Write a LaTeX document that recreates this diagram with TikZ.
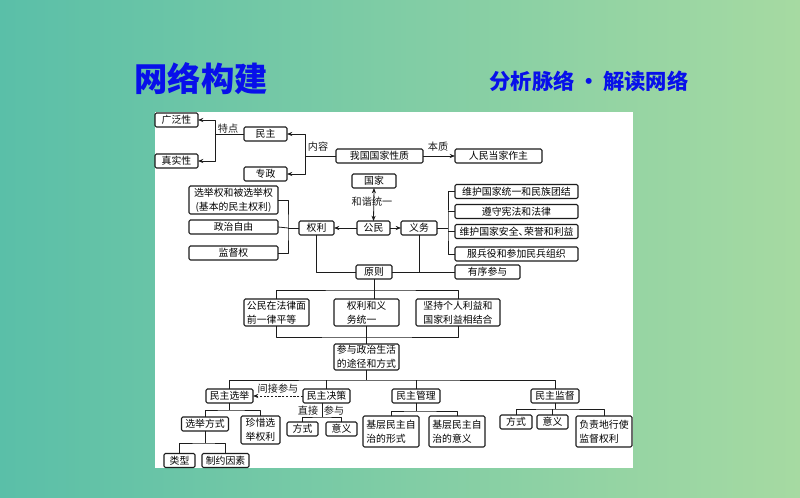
\documentclass[tikz,border=0pt]{standalone}
\usepackage{fontspec}
\setmainfont{Noto Sans CJK SC}
\usetikzlibrary{arrows.meta,positioning}
\definecolor{titleblue}{HTML}{0810EA}
\definecolor{bgleft}{HTML}{5ABFA8}
\definecolor{bgright}{HTML}{A6DAA2}
\definecolor{ink}{HTML}{1C1C1C}
\tikzset{
    every picture/.style={line join=round},
    boxw/.style={minimum width=#1*0.75pt},
    boxh/.style={minimum height=#1*0.75pt},
    mapbox/.style={draw=ink,fill=white,line width=0.8pt,rounded corners=1pt,
      minimum height=10.5pt,inner sep=1pt,outer sep=0pt,
      font=\fontsize{7.4}{10.5}\selectfont,align=center},
    twoline/.style={mapbox,align=left},
    linklabel/.style={font=\fontsize{7.6}{9}\selectfont,text=ink,inner sep=1pt},
    link/.style={draw=ink,line width=0.6pt},
    finedash/.style={dash pattern=on 1.6pt off 1.2pt}
}

\begin{document}
\begin{tikzpicture}[x=0.75pt,y=-0.75pt,>={Stealth[length=1.4mm,width=1.1mm]}]
  \useasboundingbox (0,0) rectangle (800,498);
  \shade[left color=bgleft,right color=bgright] (0,0) rectangle (800,498);
  \fill[white] (155,112) rectangle (633,468);

  \node[text=titleblue,font=\fontsize{25}{28}\selectfont\bfseries] (title) at (201,79) {网络构建};
  \node[text=titleblue,font=\fontsize{16}{18}\selectfont\bfseries] (subtitle) at (589,81) {分析脉络\,·\,解读网络};

  % upper part
  \node[mapbox,boxw=43] (gfx) at (176.5,120) {广泛性};
  \node[mapbox,boxw=43] (zsx) at (176.5,161) {真实性};
  \node[mapbox,boxw=43] (mz) at (265.5,134) {民主};
  \node[mapbox,boxw=43] (zz) at (265.5,174) {专政};
  \node[mapbox,boxw=87] (xz) at (379.5,156) {我国国家性质};
  \node[mapbox,boxw=87] (rm) at (498.5,156) {人民当家作主};
  \node[mapbox,boxw=44] (gj) at (374,181) {国家};
  \node[mapbox,boxw=33] (gm) at (373.5,228) {公民};
  \node[mapbox,boxw=35] (ql) at (316.5,228) {权利};
  \node[mapbox,boxw=36] (yw) at (419,228) {义务};
  \node[mapbox,boxw=89,boxh=28] (xjq) at (233.5,200) {选举权和被选举权\\(基本的民主权利)};
  \node[mapbox,boxw=89] (zzzy) at (233.5,227) {政治自由};
  \node[mapbox,boxw=89] (jdq) at (233.5,253) {监督权};
  \node[mapbox,boxw=123] (r1) at (516.5,191.5) {维护国家统一和民族团结};
  \node[mapbox,boxw=123] (r2) at (516.5,211.5) {遵守宪法和法律};
  \node[mapbox,boxw=123] (r3) at (516.5,231.5) {维护国家安全、\kern-0.45em 荣誉和利益};
  \node[mapbox,boxw=123] (r4) at (516.5,254) {服兵役和参加民兵组织};
  \node[mapbox,boxw=65] (yxcy) at (487.5,272) {有序参与};
  \node[mapbox,boxw=36] (yz) at (374,272) {原则};

  \node[linklabel] (tdlbl) at (228,129) {特点};
  \node[linklabel] (nrlbl) at (318,147) {内容};
  \node[linklabel] (bzlbl) at (438,147) {本质};
  \node[linklabel] (hxlbl) at (372,202) {和谐统一};

  % principles
  \node[twoline,boxw=65,boxh=27] (p1) at (276.5,312.5) {公民在法律面\\前一律平等};
  \node[twoline,boxw=65,boxh=27] (p2) at (366.5,312.5) {权利和义\\务统一};
  \node[twoline,boxw=84,boxh=27] (p3) at (458,312.5) {坚持个人利益和\\国家利益相结合};
  \node[twoline,boxw=65,boxh=26] (tj) at (366.5,357) {参与政治生活\\的途径和方式};

  % four ways
  \node[mapbox,boxw=47] (xj) at (229.5,396) {民主选举};
  \node[mapbox,boxw=47] (jc) at (326.5,396) {民主决策};
  \node[mapbox,boxw=48] (gl) at (416,396) {民主管理};
  \node[mapbox,boxw=48] (jdu) at (555,396) {民主监督};
  \node[mapbox,boxw=47] (xjfs) at (205,424) {选举方式};
  \node[twoline,boxw=39,boxh=28] (zx) at (260.5,430) {珍惜选\\举权利};
  \node[mapbox,boxw=31] (lx) at (179.5,460.5) {类型};
  \node[mapbox,boxw=47] (zy) at (225.5,460.5) {制约因素};
  \node[mapbox,boxw=31] (fs1) at (302.5,429) {方式};
  \node[mapbox,boxw=31] (yy1) at (341.5,429) {意义};
  \node[twoline,boxw=56,boxh=31] (jz1) at (391,431.5) {基层民主自\\治的形式};
  \node[twoline,boxw=56,boxh=31] (jz2) at (457,431.5) {基层民主自\\治的意义};
  \node[mapbox,boxw=32] (fs2) at (516,422) {方式};
  \node[mapbox,boxw=31] (yy2) at (552.5,422) {意义};
  \node[twoline,boxw=56,boxh=31] (fz) at (604,431.5) {负责地行使\\监督权利};
  \node[linklabel] (zjlbl) at (308,411) {直接};
  \node[linklabel] (cylbl) at (334,411) {参与};

  \coordinate (tdj) at (215,134);
  \coordinate (nrj) at (305,156);
  \coordinate (qlj) at (288,228);
  \coordinate (ywj) at (448,228);
  \coordinate (yzb) at (374,290);
  \coordinate (pjb) at (366.5,337);
  \coordinate (tjb) at (366.5,380);
  \coordinate (xjb) at (229.5,410);
  \coordinate (fsb) at (205,443);
  \coordinate (jcb) at (322,417);
  \coordinate (glb) at (416,411);
  \coordinate (jdb) at (555,409);

  \draw[link] (mz.west) -- (tdj);
  \draw[link,->] (tdj) |- (gfx.east);
  \draw[link,->] (tdj) |- (zsx.east);
  \draw[link] (xz.west) -- (nrj);
  \draw[link,->] (nrj) |- (mz.east);
  \draw[link,->] (nrj) |- (zz.east);
  \draw[link,->] (xz.east) -- (rm.west);
  \draw[link,<->] (gj.south) -- (gm.north);
  \draw[link,->] (gm.west) -- (ql.east);
  \draw[link,->] (gm.east) -- (yw.west);

  \draw[link] (ql.west) -- (qlj);
  \draw[link] (xjq.east) -| (qlj) |- (jdq.east);
  \draw[link] (zzzy.east) -- (qlj);
  \draw[link] (yw.east) -- (ywj);
  \draw[link] (r1.west) -| (ywj) |- (r4.west);
  \draw[link] (ywj |- r2.west) -- (r2.west);
  \draw[link] (ywj |- r3.west) -- (r3.west);

  \draw[link] (ql.south) |- (yz.west);
  \draw[link] (yz.east) -- (yxcy.west);
  \draw[link] (yw.south) -- (yw.south |- yz.east);

  \draw[link] (yz.south) -- (yz.south |- p2.north);
  \draw[link] (p1.north) |- (yzb) -| (p3.north);
  \draw[link] (p1.south) |- (pjb) -| (p3.south);
  \draw[link] (p2.south) -- (tj.north);

  \draw[link] (tj.south) -- (tjb);
  \draw[link] (xj.north) |- (tjb) -| (jdu.north);
  \draw[link] (jc.north) -- (jc.north |- tjb);
  \draw[link] (gl.north) -- (gl.north |- tjb);
  \draw[link,finedash,->] (jc.west) -- node[linklabel,above=1pt] {间接参与} (xj.east);

  \draw[link] (xj.south) -- (xjb);
  \draw[link] (xjfs.north) |- (xjb) -| (zx.north);
  \draw[link] (xjfs.south) -- (fsb);
  \draw[link] (lx.north) |- (fsb) -| (zy.north);
  \draw[link] (jc.south -| jcb) -- (jcb);
  \draw[link] (fs1.north) |- (jcb) -| (yy1.north);
  \draw[link] (gl.south) -- (glb);
  \draw[link] (jz1.north) |- (glb) -| (jz2.north);
  \draw[link] (jdu.south) -- (jdb);
  \draw[link] (fs2.north) |- (jdb) -| (fz.north);
  \draw[link] (yy2.north) -- (yy2.north |- jdb);
\end{tikzpicture}
\end{document}
